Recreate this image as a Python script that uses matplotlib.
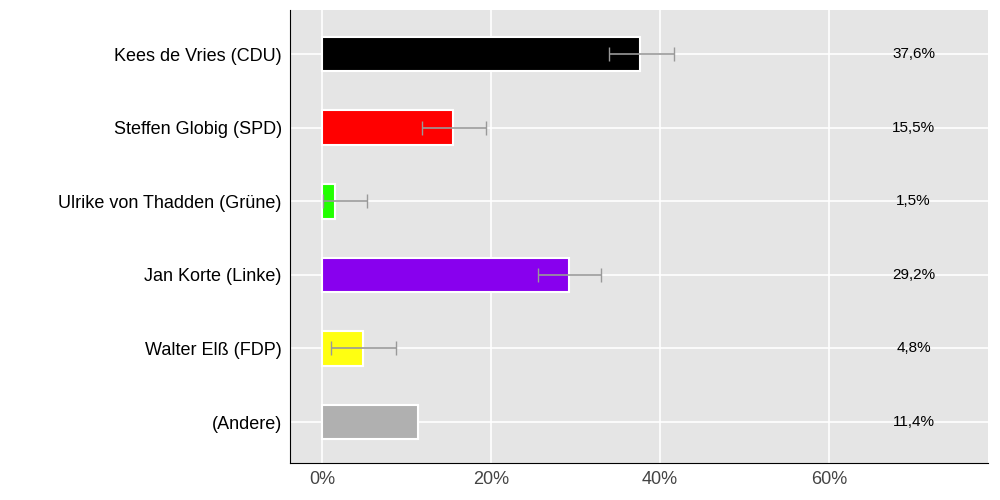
import matplotlib.pyplot as plt
import numpy as np

plt.rcParams['font.family'] = ['Liberation Sans', 'DejaVu Sans']

# Daten
kandidaten = ['Kees de Vries (CDU)', 'Steffen Globig (SPD)', 'Ulrike von Thadden (Grüne)',
              'Jan Korte (Linke)', 'Walter Elß (FDP)', '(Andere)']
werte = [37.6, 15.5, 1.5, 29.2, 4.8, 11.4]
fehler_lo = [34.0, 11.8, 0.1, 25.6, 1.1, None]
fehler_hi = [41.6, 19.4, 5.3, 33.0, 8.8, None]
farben = ['#000000', '#ff0000', '#22ff00', '#8800ee', '#ffff11', '#b0b0b0']
labels = ['37,6%', '15,5%', '1,5%', '29,2%', '4,8%', '11,4%']

fig, ax = plt.subplots(figsize=(10, 5), dpi=100)
fig.subplots_adjust(left=0.29, right=0.988, top=0.98, bottom=0.075)
ax.set_facecolor('#e5e5e5')

y = np.arange(len(kandidaten))
ax.barh(y, werte, height=0.47, color=farben, edgecolor='white', linewidth=1.5, zorder=3)

for i in range(len(kandidaten)):
    if fehler_lo[i] is not None:
        ax.errorbar([(fehler_lo[i] + fehler_hi[i]) / 2], [y[i]],
                    xerr=[(fehler_hi[i] - fehler_lo[i]) / 2], fmt='none',
                    ecolor='#999999', elinewidth=1.2, capsize=5, zorder=4)
    ax.text(70, y[i], labels[i], ha='center', va='center', fontsize=11, zorder=5)

ax.set_yticks(y)
ax.set_yticklabels(kandidaten, fontsize=13)
ax.set_ylim(len(kandidaten) - 0.5 + 0.05, -0.6)
ax.set_xlim(-3.8, 78.8)
ax.set_xticks([0, 20, 40, 60])
ax.set_xticklabels(['0%', '20%', '40%', '60%'], fontsize=13, color='#444444')
ax.grid(True, color='white', linewidth=1.2, zorder=0)
ax.set_axisbelow(True)
ax.tick_params(length=0, pad=6)
for s in ['top', 'right']:
    ax.spines[s].set_visible(False)

fig.savefig('out.png')
